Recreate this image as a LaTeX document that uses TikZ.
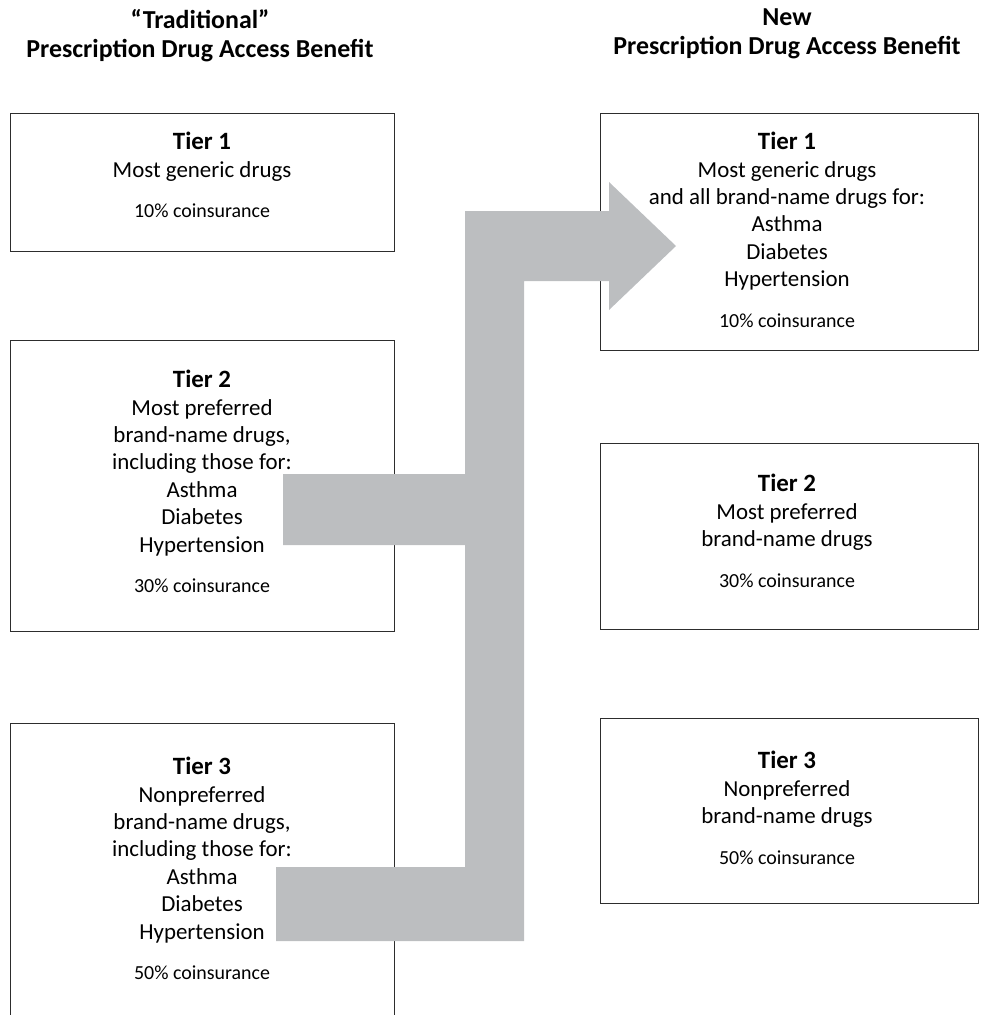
\documentclass[tikz,border=0pt]{standalone}
\usepackage{fontspec}
\setmainfont{Carlito}
\definecolor{arrowgray}{RGB}{188,190,192}
\definecolor{boxline}{RGB}{45,45,45}
\begin{document}
\begin{tikzpicture}[x=1bp,y=-1bp,
  tierbox/.style={draw=boxline,line width=1bp,inner sep=0pt,minimum width=#1},
  tiertext/.style={anchor=north,align=center,inner sep=0pt,font=\fontsize{23}{27.5}\selectfont},
  headtext/.style={anchor=north,align=center,inner sep=0pt,font=\bfseries\fontsize{26}{29}\selectfont}]
\useasboundingbox (0,0) rectangle (983,1015);
\clip (0,0) rectangle (983,1015);
\newcommand\tiername[1]{{\bfseries\fontsize{25}{27.5}\selectfont Tier #1}}
\newcommand\coins[1]{{\fontsize{20}{27.5}\selectfont #1\% coinsurance}}
% headers
\node[headtext] (hl) at (200,9) {``Traditional''\\Prescription Drug Access Benefit};
\node[headtext] (hr) at (787,9) {New\\Prescription Drug Access Benefit};
% left boxes
\node[tierbox=383bp,minimum height=138bp] (l1) at (202.5,182) {};
\node[tierbox=383bp,minimum height=291bp] (l2) at (202.5,485.5) {};
\node[tierbox=383bp,minimum height=302bp] (l3) at (202.5,874) {};
% right boxes
\node[tierbox=378bp,minimum height=237bp] (r1) at (789,231.5) {};
\node[tierbox=378bp,minimum height=186bp] (r2) at (789,536) {};
\node[tierbox=378bp,minimum height=185bp] (r3) at (789,810.5) {};
% texts
\node[tiertext] (l1t) at (202,132) {\tiername{1}\\Most generic drugs\\[13.5bp]\coins{10}};
\node[tiertext] (l2t) at (202,370) {\tiername{2}\\Most preferred\\brand-name drugs,\\including those for:\\Asthma\\Diabetes\\Hypertension\\[13.5bp]\coins{30}};
\node[tiertext] (l3t) at (202,757) {\tiername{3}\\Nonpreferred\\brand-name drugs,\\including those for:\\Asthma\\Diabetes\\Hypertension\\[13.5bp]\coins{50}};
\node[tiertext] (r1t) at (787,132) {\tiername{1}\\Most generic drugs\\and all brand-name drugs for:\\Asthma\\Diabetes\\Hypertension\\[13.5bp]\coins{10}};
\node[tiertext] (r2t) at (787,474) {\tiername{2}\\Most preferred\\brand-name drugs\\[13.5bp]\coins{30}};
\node[tiertext] (r3t) at (787,751) {\tiername{3}\\Nonpreferred\\brand-name drugs\\[13.5bp]\coins{50}};
% big arrow
\fill[arrowgray] (276,867) -- (465,867) -- (465,545) -- (283,545) -- (283,474)
  -- (465,474) -- (465,211) -- (609,211) -- (609,182) -- (676,246)
  -- (609,310) -- (609,281) -- (524,281) -- (524,941) -- (276,941) -- cycle;
\end{tikzpicture}
\end{document}
